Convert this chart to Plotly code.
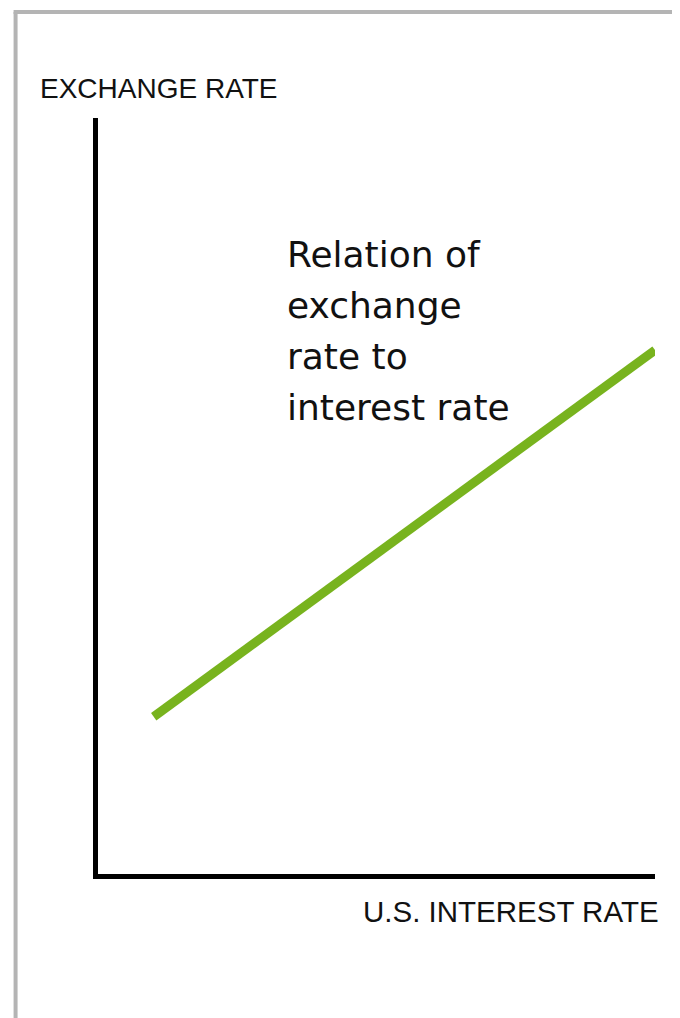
import plotly.graph_objects as go

# Data (conceptual relation, axis units 0-10)
interest_rate = [1.0, 10.0]
exchange_rate = [2.08, 6.93]
x_title = "U.S. INTEREST RATE"
y_title = "EXCHANGE RATE"
label_lines = ["Relation of", "exchange", "rate to", "interest rate"]

OFF = 8  # page body margin offset
W, H = 680 - OFF, 1018 - OFF
# plot-area edges in page pixels
PL, PR, PT, PB = 97.5, 655, 118, 874.5
L, R, T, B = PL - OFF, PR - OFF, PT - OFF, PB - OFF
pw, ph = R - L, B - T

def px(x):
    return (x - PL) / pw

def py(y):
    return (PB - y) / ph

fig = go.Figure()
fig.add_trace(go.Scatter(
    x=interest_rate, y=exchange_rate, mode="lines",
    line=dict(color="#78b31e", width=9), cliponaxis=False,
    hoverinfo="skip", showlegend=False))

fig.update_layout(
    width=W, height=H,
    margin=dict(l=L, r=W - R, t=T, b=H - B, pad=0),
    paper_bgcolor="white", plot_bgcolor="white",
    xaxis=dict(range=[0, 10], showgrid=False, zeroline=False, showticklabels=False,
               ticks="", showline=True, linecolor="black", linewidth=5, fixedrange=True),
    yaxis=dict(range=[0, 10], showgrid=False, zeroline=False, showticklabels=False,
               ticks="", showline=True, linecolor="black", linewidth=5, fixedrange=True),
    font=dict(family="Liberation Sans, Arial, sans-serif", color="#111"),
)

# gray frame
fig.add_shape(type="line", xref="paper", yref="paper",
              x0=px(15), x1=px(15), y0=py(12), y1=py(1040),
              line=dict(color="#b4b4b4", width=4))
fig.add_shape(type="line", xref="paper", yref="paper",
              x0=px(13), x1=px(700), y0=py(12), y1=py(12),
              line=dict(color="#b4b4b4", width=4))

fig.add_annotation(text=y_title, xref="paper", yref="paper", x=px(37), y=py(88),
                   xanchor="left", yanchor="middle", showarrow=False,
                   font=dict(size=28))
fig.add_annotation(text=x_title, xref="paper", yref="paper", x=px(661), y=py(912),
                   xanchor="right", yanchor="middle", showarrow=False,
                   font=dict(size=29.5))

centers = [255, 306, 357, 408]
for txt, cy in zip(label_lines, centers):
    fig.add_annotation(text=txt, xref="paper", yref="paper", x=px(285), y=py(cy),
                       xanchor="left", yanchor="middle", showarrow=False,
                       font=dict(size=36, family="DejaVu Sans, sans-serif"))

fig.write_html("out.html")
